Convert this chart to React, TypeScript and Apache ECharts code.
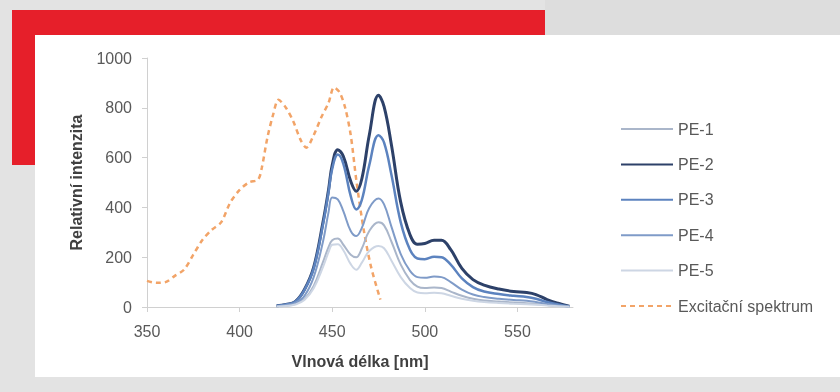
import React, { useEffect, useRef } from "react";
import * as echarts from "echarts";

// wavelengths (nm) for emission spectra
const emWl = [420, 425, 430, 435, 440, 445, 448, 450, 453, 456, 460, 463, 466, 470, 475, 478, 482, 487, 492, 496, 500, 505, 509, 514, 520, 526, 532, 540, 548, 555, 560, 566, 572, 578];
const pe1 = [2, 5, 12, 32, 85, 180, 240, 268, 275, 250, 210, 200, 235, 305, 340, 328, 262, 170, 108, 82, 76, 78, 76, 62, 45, 33, 26, 22, 18, 15, 12, 8, 4, 1];
const pe2 = [5, 10, 21, 70, 160, 340, 470, 570, 632, 605, 505, 465, 515, 690, 850, 805, 650, 420, 290, 252, 255, 268, 268, 230, 155, 110, 88, 72, 62, 58, 50, 30, 15, 3];
const pe3 = [5, 10, 21, 68, 155, 330, 460, 555, 612, 575, 445, 392, 430, 570, 690, 660, 530, 340, 230, 195, 192, 202, 200, 170, 115, 80, 62, 52, 45, 40, 33, 20, 10, 2];
const pe4 = [3, 8, 16, 45, 120, 262, 380, 440, 432, 385, 305, 285, 318, 398, 436, 412, 322, 212, 145, 120, 117, 122, 120, 100, 70, 50, 40, 33, 28, 25, 20, 12, 6, 1];
const pe5 = [2, 4, 10, 28, 75, 160, 220, 250, 252, 228, 172, 150, 178, 225, 245, 236, 186, 120, 76, 58, 55, 57, 55, 45, 33, 25, 20, 16, 13, 11, 9, 6, 3, 1];

// excitation spectrum
const exWl = [350, 355, 360, 365, 370, 375, 380, 385, 390, 395, 400, 405, 410, 412, 415, 418, 421, 425, 429, 433, 436, 440, 444, 448, 451, 454, 457, 460, 463, 467, 471, 476];
const exVal = [105, 97, 100, 125, 150, 210, 270, 310, 340, 420, 470, 500, 512, 560, 680, 770, 832, 800, 745, 670, 640, 690, 760, 820, 882, 862, 800, 690, 510, 310, 160, 30];

const seriesNames = ["PE-1", "PE-2", "PE-3", "PE-4", "PE-5", "Excitační spektrum"];
const xTicks = [350, 400, 450, 500, 550];
const yTicks = [0, 200, 400, 600, 800, 1000];

const pair = (xs: number[], ys: number[]) => xs.map((x, i) => [x, ys[i]]);

export default function App() {
  const ref = useRef<HTMLDivElement>(null);
  useEffect(() => {
    if (!ref.current) return;
    const chart = echarts.init(ref.current, null, { renderer: "svg" });
    const font = "Liberation Sans";
    const emission = [
      { name: seriesNames[0], data: pe1, color: "#aab6ca", width: 2 },
      { name: seriesNames[1], data: pe2, color: "#2d4169", width: 3 },
      { name: seriesNames[2], data: pe3, color: "#5c83bf", width: 2.5 },
      { name: seriesNames[3], data: pe4, color: "#7f9bc8", width: 2 },
      { name: seriesNames[4], data: pe5, color: "#cdd6e4", width: 2 },
    ];
    chart.setOption({
      animation: false,
      backgroundColor: "transparent",
      textStyle: { fontFamily: font },
      graphic: [
        { type: "rect", z: -100, shape: { x: 0, y: 0, width: 840, height: 392 }, style: { fill: "#e3e3e3" } },
        { type: "rect", z: -99, shape: { x: 545, y: 0, width: 295, height: 35 }, style: { fill: "#dddddd" } },
        { type: "rect", z: -98, shape: { x: 12, y: 10, width: 533, height: 155 }, style: { fill: "#e61f2a" } },
        { type: "rect", z: -97, shape: { x: 35, y: 35, width: 805, height: 342 }, style: { fill: "#ffffff" } },
      ],
      grid: { left: 147, right: 267, top: 58, bottom: 85 },
      legend: {
        orient: "vertical",
        left: 620,
        top: 121,
        itemWidth: 52,
        itemHeight: 14,
        itemGap: 19.4,
        padding: 0,
        data: seriesNames,
        itemStyle: { opacity: 0 },
        textStyle: { fontFamily: font, fontSize: 16, color: "#595959" },
      },
      xAxis: {
        type: "value",
        min: xTicks[0],
        max: 580,
        interval: 50,
        name: "Vlnová délka [nm]",
        nameLocation: "middle",
        nameGap: 46,
        nameTextStyle: { fontFamily: font, fontSize: 16, fontWeight: "bold", color: "#404040" },
        axisLine: { show: true, lineStyle: { color: "#d0d0d0", width: 1 } },
        axisTick: { show: true, length: 5, lineStyle: { color: "#d0d0d0" } },
        axisLabel: { showMaxLabel: false, margin: 16, fontFamily: font, fontSize: 16, color: "#595959", formatter: (v: number) => String(v) },
        splitLine: { show: false },
      },
      yAxis: {
        type: "value",
        min: yTicks[0],
        max: yTicks[yTicks.length - 1],
        interval: 200,
        name: "Relativní intenzita",
        nameLocation: "middle",
        nameGap: 63,
        nameTextStyle: { fontFamily: font, fontSize: 16, fontWeight: "bold", color: "#404040" },
        axisLine: { show: true, lineStyle: { color: "#d0d0d0", width: 1 } },
        axisTick: { show: true, length: 5, lineStyle: { color: "#d0d0d0" } },
        axisLabel: { margin: 15, fontFamily: font, fontSize: 16, color: "#595959", formatter: (v: number) => String(v) },
        splitLine: { show: false },
      },
      series: [
        ...emission.map((s) => ({
          name: s.name,
          type: "line",
          data: pair(emWl, s.data),
          smooth: 0.4,
          symbol: "none",
          lineStyle: { color: s.color, width: s.width },
          itemStyle: { color: s.color },
        })),
        {
          name: seriesNames[5],
          type: "line",
          data: pair(exWl, exVal),
          smooth: 0.3,
          symbol: "none",
          z: 1,
          lineStyle: { color: "#f2a468", width: 2.5, type: [5, 4] },
          itemStyle: { color: "#f2a468" },
        },
      ],
    });
    return () => chart.dispose();
  }, []);
  return (
    <div
      ref={ref}
      style={{ position: "fixed", left: 0, top: 0, width: 840, height: 392 }}
    />
  );
}
